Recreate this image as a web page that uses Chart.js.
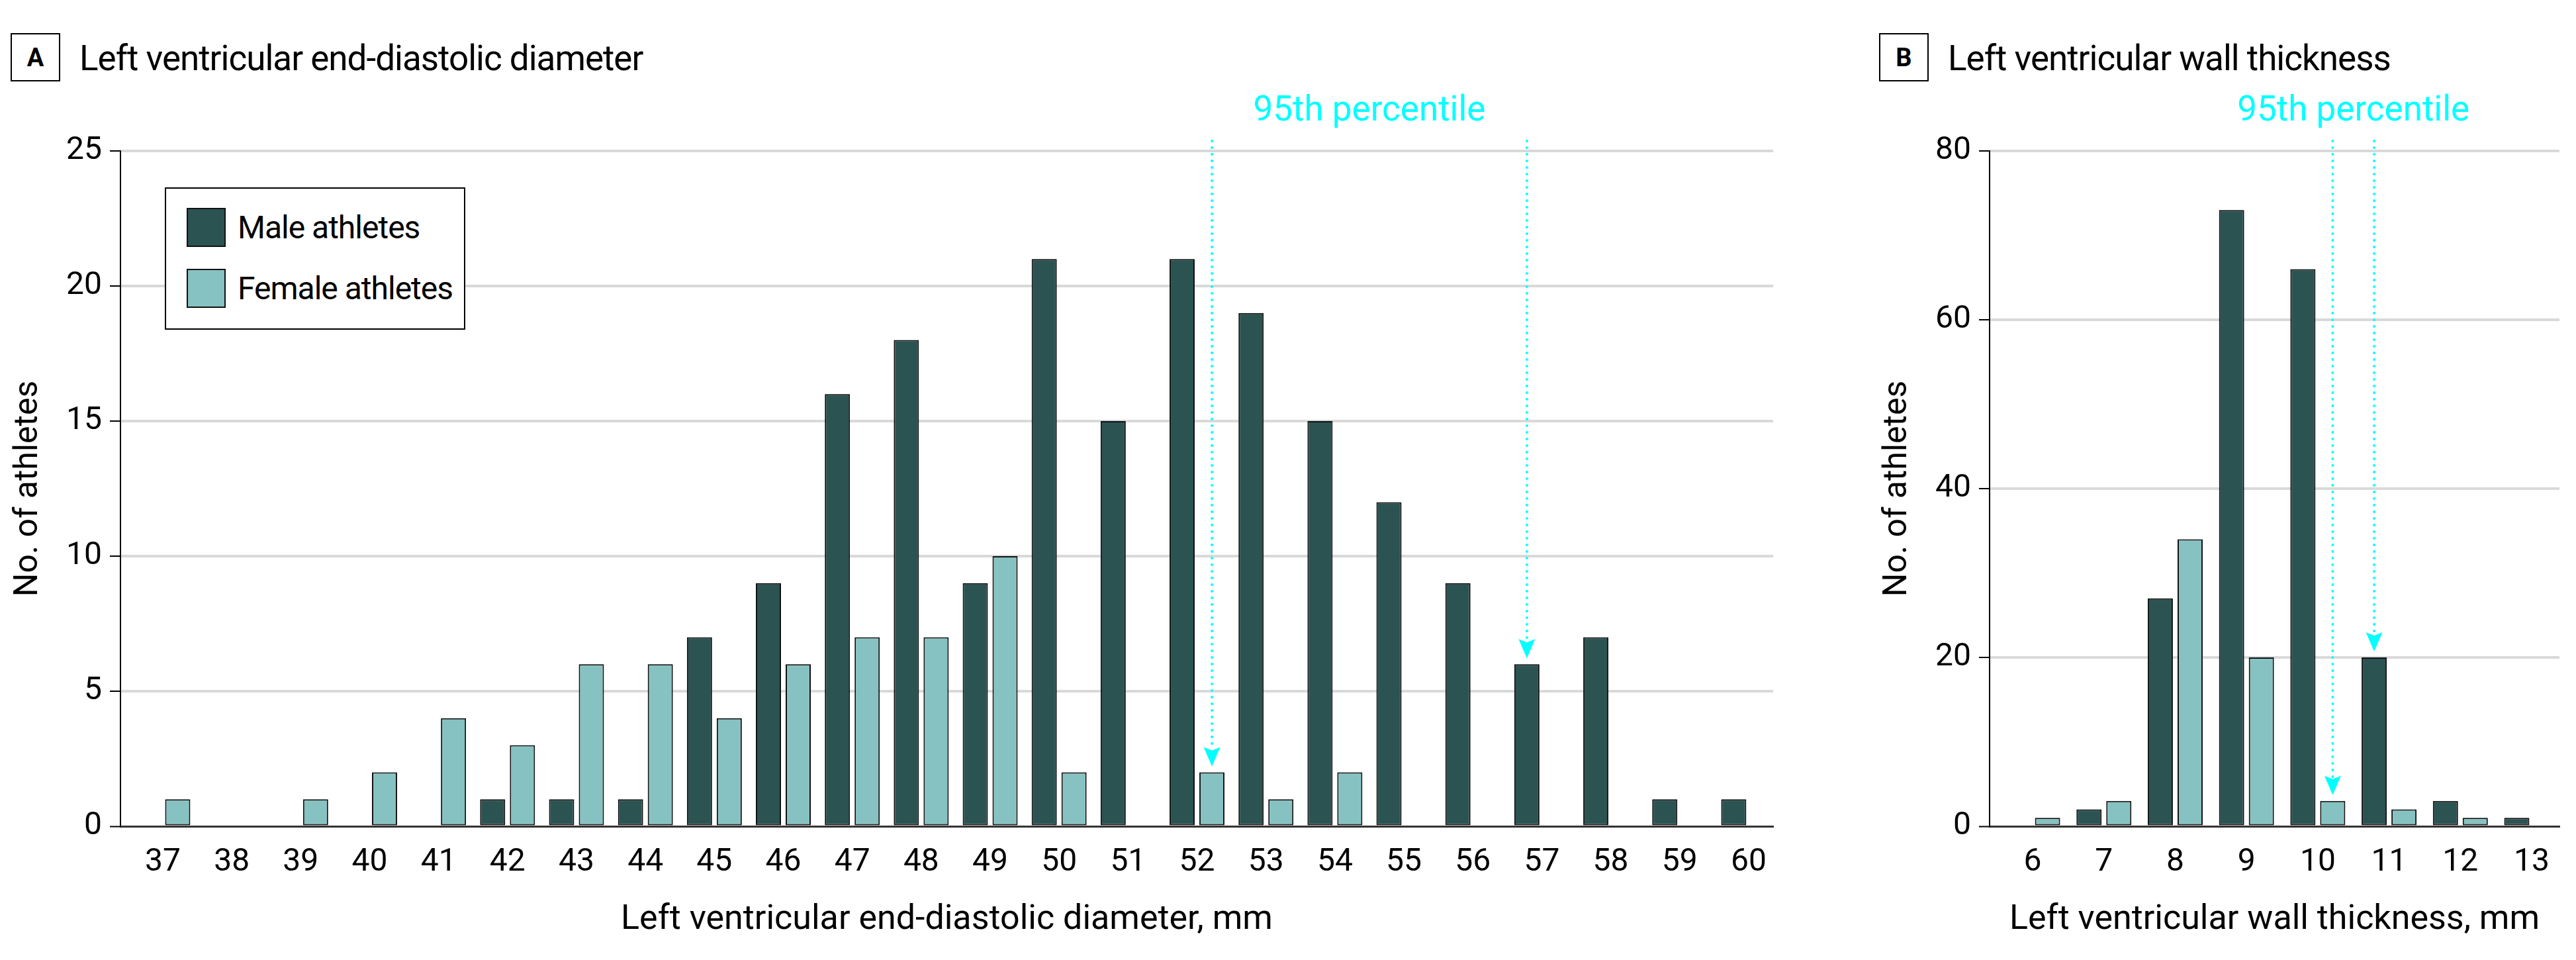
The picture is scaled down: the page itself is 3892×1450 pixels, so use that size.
<!DOCTYPE html>
<html>
<head>
<meta charset="utf-8">
<script src="https://cdn.jsdelivr.net/npm/chart.js@4.4.0/dist/chart.umd.min.js"></script>
<style>
  * { box-sizing: border-box; }
  html, body { margin: 0; padding: 0; background: #fff; }
  body { width: 3892px; height: 1450px; position: relative; overflow: hidden; font-family: Roboto, sans-serif; color: #000; }
  canvas { position: absolute; top: 0; }
  .panel-tag { position: absolute; top: 50px; width: 75px; height: 73px; border: 2px solid #000; font-weight: bold; font-size: 38px; display: flex; align-items: center; justify-content: center; }
  .panel-title { position: absolute; top: 62px; font-size: 53px; line-height: 53px; letter-spacing: -1px; white-space: nowrap; }
  .legend { position: absolute; left: 249px; top: 283px; width: 454px; height: 215px; border: 2px solid #000; background: #fff; z-index: 2; }
  .legend .sw { position: absolute; left: 31px; width: 59px; height: 59px; border: 2px solid #111; }
  .legend .lbl { position: absolute; left: 108px; font-size: 48px; line-height: 48px; letter-spacing: -1px; white-space: nowrap; }
</style>
</head>
<body>
<div class="panel-tag" style="left:16px">A</div>
<div class="panel-title" style="left:120px">Left ventricular end-diastolic diameter</div>
<div class="panel-tag" style="left:2839px">B</div>
<div class="panel-title" style="left:2943px">Left ventricular wall thickness</div>

<div class="legend">
  <div class="sw" style="top:29px;background:#2b5352"></div>
  <div class="lbl" style="top:35px">Male athletes</div>
  <div class="sw" style="top:121px;background:#86c2c1"></div>
  <div class="lbl" style="top:127px">Female athletes</div>
</div>

<canvas id="chartA" width="2760" height="1450" style="left:0"></canvas>
<canvas id="chartB" width="1132" height="1450" style="left:2760px"></canvas>

<script>
// panel A: end-diastolic diameter, mm
const diameterMm = [37, 38, 39, 40, 41, 42, 43, 44, 45, 46, 47, 48, 49, 50, 51, 52, 53, 54, 55, 56, 57, 58, 59, 60]
const diameterMale = [0, 0, 0, 0, 0, 1, 1, 1, 7, 9, 16, 18, 9, 21, 15, 21, 19, 15, 12, 9, 6, 7, 1, 1]
const diameterFemale = [1, 0, 1, 2, 4, 3, 6, 6, 4, 6, 7, 7, 10, 2, 0, 2, 1, 2, 0, 0, 0, 0, 0, 0]
const diameterYMax = 25
const diameterYStep = 5
// 95th percentile markers: series 0 = male, 1 = female
const diameterP95 = [{ series: 1, mm: 52 }, { series: 0, mm: 57 }]

// panel B: wall thickness, mm
const wallMm = [6, 7, 8, 9, 10, 11, 12, 13]
const wallMale = [0, 2, 27, 73, 66, 20, 3, 1]
const wallFemale = [1, 3, 34, 20, 3, 2, 1, 0]
const wallYMax = 80
const wallYStep = 20
const wallP95 = [{ series: 1, mm: 10 }, { series: 0, mm: 11 }]

const seriesNames = ['Male athletes', 'Female athletes']
const p95Label = '95th percentile'

const MALE = '#2b5352'
const FEMALE = '#86c2c1'
const CYAN = '#00ffff'
const FONT = 'Roboto, sans-serif'

Chart.defaults.font.family = FONT
Chart.defaults.color = '#000'

const p95Plugin = {
  id: 'p95',
  afterDatasetsDraw(chart, args, opts) {
    const { ctx, chartArea } = chart
    const xs = []
    ctx.save()
    opts.targets.forEach((t) => {
      const ds = chart.data.datasets[t.series]
      const idx = ds.data.findIndex((d) => d.x === t.mm)
      const bar = chart.getDatasetMeta(t.series).data[idx]
      const x = bar.x
      const tipY = bar.y - 9
      const backY = tipY - 29
      xs.push(x)

      ctx.strokeStyle = CYAN
      ctx.lineWidth = 4
      ctx.lineCap = 'round'
      ctx.setLineDash([0, 10])
      ctx.beginPath()
      ctx.moveTo(x, chartArea.top - 15)
      ctx.lineTo(x, backY + 2)
      ctx.stroke()

      ctx.setLineDash([])
      ctx.fillStyle = CYAN
      ctx.beginPath()
      ctx.moveTo(x, tipY)
      ctx.lineTo(x - 12.5, backY)
      ctx.lineTo(x, backY + 5)
      ctx.lineTo(x + 12.5, backY)
      ctx.closePath()
      ctx.fill()
    })
    ctx.fillStyle = CYAN
    ctx.font = '53px ' + FONT
    ctx.textAlign = 'center'
    ctx.textBaseline = 'middle'
    const cx = xs.reduce((a, b) => a + b, 0) / xs.length
    ctx.fillText(opts.label, cx, chartArea.top - 59)
    ctx.restore()
  }
}

function makeChart(id, cfg) {
  const toPoints = (vals) => cfg.mm.map((mm, i) => ({ x: mm, y: vals[i] }))
  const barStyle = {
    borderColor: '#111',
    borderWidth: 2,
    borderSkipped: false,
    categoryPercentage: cfg.catPct,
    barPercentage: 0.844
  }

  return new Chart(document.getElementById(id), {
    type: 'bar',
    data: {
      datasets: [
        { label: seriesNames[0], data: toPoints(cfg.male), backgroundColor: MALE, ...barStyle },
        { label: seriesNames[1], data: toPoints(cfg.female), backgroundColor: FEMALE, ...barStyle }
      ]
    },
    options: {
      responsive: false,
      animation: false,
      devicePixelRatio: 1,
      layout: { padding: { top: 228, right: cfg.padRight, bottom: 0, left: 0 } },
      plugins: {
        legend: { display: false },
        tooltip: { enabled: false },
        p95: { targets: cfg.p95, label: p95Label }
      },
      scales: {
        x: {
          type: 'linear',
          offset: false,
          min: cfg.xMin,
          max: cfg.xMax,
          grid: { display: false, drawTicks: false },
          border: { display: true, color: '#333', width: 3 },
          ticks: {
            stepSize: 1,
            includeBounds: false,
            autoSkip: false,
            maxRotation: 0,
            padding: 26,
            font: { size: 48 },
            color: '#000'
          },
          title: {
            display: true,
            text: cfg.xTitle,
            font: { size: 52 },
            color: '#000',
            padding: { top: 0, bottom: 29 }
          },
          afterFit: (scale) => { scale.height = 202 }
        },
        y: {
          min: 0,
          max: cfg.yMax,
          grid: {
            color: (c) => (c.tick && c.tick.value === 0 ? '#333' : '#d9d9d9'),
            lineWidth: (c) => (c.tick && c.tick.value === 0 ? 3 : 4),
            tickColor: '#000',
            tickWidth: 2,
            tickLength: 16
          },
          border: { display: true, color: '#000', width: 2 },
          ticks: { stepSize: cfg.yStep, padding: 12, font: { size: 48 }, color: '#000' },
          title: {
            display: true,
            text: 'No. of athletes',
            font: { size: 50 },
            color: '#000',
            padding: { top: cfg.yTitlePad, bottom: 0 }
          },
          afterFit: (scale) => { scale.width = cfg.yWidth }
        }
      }
    },
    plugins: [p95Plugin]
  })
}

makeChart('chartA', {
  mm: diameterMm,
  male: diameterMale,
  female: diameterFemale,
  p95: diameterP95,
  yMax: diameterYMax,
  yStep: diameterYStep,
  xMin: 36.386,
  xMax: 60.356,
  catPct: 0.864,
  padRight: 81,
  yWidth: 182,
  yTitlePad: 13,
  xTitle: 'Left ventricular end-diastolic diameter, mm'
})

makeChart('chartB', {
  mm: wallMm,
  male: wallMale,
  female: wallFemale,
  p95: wallP95,
  yMax: wallYMax,
  yStep: wallYStep,
  xMin: 5.396,
  xMax: 13.39,
  catPct: 0.836,
  padRight: 25,
  yWidth: 246,
  yTitlePad: 77,
  xTitle: 'Left ventricular wall thickness, mm'
})
</script>
</body>
</html>
